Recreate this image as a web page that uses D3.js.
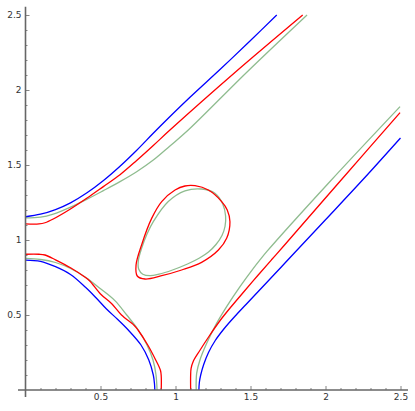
<!DOCTYPE html>
<html>
<head>
<meta charset="utf-8">
<script src="https://cdn.jsdelivr.net/npm/d3@7"></script>
<style>
  html, body { margin: 0; padding: 0; background: #fff; }
  svg { display: block; }
</style>
</head>
<body>
<svg width="415" height="411"></svg>
<script>
// Ticks
const majorTicks = [0.5, 1, 1.5, 2, 2.5];
const minorTicks = [0.1, 0.2, 0.3, 0.4, 0.6, 0.7, 0.8, 0.9, 1.1, 1.2, 1.3, 1.4, 1.6, 1.7, 1.8, 1.9, 2.1, 2.2, 2.3, 2.4];

// Blue curve, branches
const blueUpperLeft = [[0,1.155],[0.1,1.172],[0.2,1.203],[0.3,1.248],[0.41,1.315],[0.52,1.397],[0.63,1.492],[0.74,1.597],[0.85,1.71],[0.95,1.81],[1.1,1.955],[1.3,2.14],[1.5,2.33],[1.675,2.5]];
const blueLowerLeft = [[0,0.866],[0.1,0.858],[0.2,0.822],[0.3,0.77],[0.4,0.685],[0.47,0.615],[0.54,0.54],[0.615,0.47],[0.685,0.4],[0.77,0.3],[0.822,0.2],[0.852,0.1],[0.86,0.04],[0.862,0]];
const blueLowerRight = [[1.156,0],[1.159,0.05],[1.168,0.1],[1.188,0.17],[1.22,0.25],[1.265,0.33],[1.325,0.41],[1.395,0.49],[1.47,0.57],[1.55,0.655],[1.63,0.74],[1.71,0.825],[1.8,0.922],[2.0,1.135],[2.25,1.403],[2.5,1.68]];

// Red curve
const redUpperLeft = [[0,1.107],[0.09,1.107],[0.13,1.115],[0.185,1.14],[0.297,1.205],[0.408,1.278],[0.519,1.356],[0.63,1.435],[0.741,1.53],[0.852,1.63],[0.963,1.733],[1.4,2.12],[1.848,2.5]];
const redLowerLeft = [[0,0.905],[0.09,0.905],[0.13,0.9],[0.2,0.868],[0.3,0.815],[0.4,0.75],[0.43,0.725],[0.5,0.64],[0.575,0.575],[0.64,0.5],[0.725,0.43],[0.75,0.4],[0.815,0.3],[0.868,0.2],[0.9,0.13],[0.905,0.09],[0.905,0]];
const redLowerRight = [[1.101,0],[1.101,0.1],[1.104,0.144],[1.118,0.19],[1.16,0.26],[1.225,0.36],[1.295,0.46],[1.375,0.56],[1.46,0.66],[1.55,0.765],[1.64,0.868],[1.73,0.97],[2.1,1.395],[2.497,1.849]];
const redOval = [[1.13,1.362],[1.219,1.333],[1.308,1.256],[1.345,1.2],[1.363,1.122],[1.341,1.011],[1.286,0.933],[1.174,0.851],[1.041,0.8],[0.908,0.762],[0.797,0.74],[0.745,0.76],[0.737,0.833],[0.774,0.967],[0.841,1.144],[0.908,1.256],[0.997,1.333],[1.063,1.36]];

// Green curve
const greenUpperLeft = [[0,1.147],[0.1,1.152],[0.185,1.173],[0.297,1.218],[0.408,1.271],[0.519,1.329],[0.63,1.389],[0.741,1.455],[0.852,1.533],[0.963,1.627],[1.085,1.733],[1.477,2.12],[1.877,2.5]];
const greenLowerLeft = [[0,0.877],[0.1,0.87],[0.2,0.85],[0.3,0.81],[0.4,0.752],[0.5,0.675],[0.596,0.596],[0.675,0.5],[0.752,0.4],[0.81,0.3],[0.85,0.2],[0.87,0.1],[0.877,0]];
const greenLowerRight = [[1.138,0],[1.141,0.111],[1.163,0.2],[1.208,0.311],[1.274,0.444],[1.341,0.556],[1.43,0.689],[1.519,0.811],[1.563,0.867],[1.608,0.922],[2.03,1.39],[2.497,1.889]];
const greenOval = [[1.174,1.34],[1.263,1.311],[1.315,1.24],[1.334,1.16],[1.33,1.09],[1.31,1.03],[1.27,0.97],[1.22,0.92],[1.16,0.88],[1.08,0.84],[0.98,0.8],[0.89,0.772],[0.83,0.762],[0.782,0.772],[0.755,0.805],[0.752,0.86],[0.774,0.944],[0.81,1.04],[0.852,1.122],[0.952,1.256],[1.063,1.327]];

const svg = d3.select("svg");

// Scales: 150 px per unit
const x = d3.scaleLinear().domain([0, 2.5]).range([25.5, 400.5]);
const y = d3.scaleLinear().domain([0, 2.5]).range([390, 15]);

const axisColor = "#666";
const labelColor = "#333";

// Curves
const line = d3.line().x(d => x(d[0])).y(d => y(d[1])).curve(d3.curveCatmullRom.alpha(0.5));
const closed = d3.line().x(d => x(d[0])).y(d => y(d[1])).curve(d3.curveCatmullRomClosed.alpha(0.5));

const curves = [
  {color: "#8fbc8f", open: [greenUpperLeft, greenLowerLeft, greenLowerRight], oval: greenOval},
  {color: "#0000ff", open: [blueUpperLeft, blueLowerLeft, blueLowerRight], oval: null},
  {color: "#ff0000", open: [redUpperLeft, redLowerLeft, redLowerRight], oval: redOval}
];

const plot = svg.append("g");
curves.forEach(c => {
  plot.selectAll(null)
    .data(c.open)
    .join("path")
    .attr("d", line)
    .attr("fill", "none")
    .attr("stroke", c.color)
    .attr("stroke-width", 1.3);
  if (c.oval) {
    plot.append("path")
      .attr("d", closed(c.oval))
      .attr("fill", "none")
      .attr("stroke", c.color)
      .attr("stroke-width", 1.3);
  }
});

// Axes
svg.append("g")
  .attr("transform", `translate(0,${y(0)})`)
  .call(d3.axisBottom(x).tickValues(majorTicks).tickSizeInner(-4).tickSizeOuter(0).tickPadding(4).tickFormat(d3.format("")))
  .call(g => g.select(".domain").remove());
svg.append("g")
  .attr("transform", `translate(0,${y(0)})`)
  .call(d3.axisBottom(x).tickValues(minorTicks).tickSizeInner(-2).tickSizeOuter(0).tickFormat(""))
  .call(g => g.select(".domain").remove());

svg.append("g")
  .attr("transform", `translate(${x(0)},0)`)
  .call(d3.axisLeft(y).tickValues(majorTicks).tickSizeInner(-4).tickSizeOuter(0).tickPadding(4).tickFormat(d3.format("")))
  .call(g => g.select(".domain").remove());
svg.append("g")
  .attr("transform", `translate(${x(0)},0)`)
  .call(d3.axisLeft(y).tickValues(minorTicks).tickSizeInner(-2).tickSizeOuter(0).tickFormat(""))
  .call(g => g.select(".domain").remove());

svg.append("line")
  .attr("x1", x(-0.05)).attr("x2", x(2.55))
  .attr("y1", y(0)).attr("y2", y(0))
  .attr("stroke", axisColor).attr("stroke-width", 1.6);
svg.append("line")
  .attr("x1", x(0)).attr("x2", x(0))
  .attr("y1", y(2.555)).attr("y2", y(-0.047))
  .attr("stroke", axisColor).attr("stroke-width", 1.6);

svg.selectAll(".tick line").attr("stroke", axisColor).attr("stroke-width", 0.8);
svg.selectAll(".tick text")
  .attr("fill", labelColor)
  .attr("font-family", "DejaVu Sans, sans-serif")
  .attr("font-size", 9);
</script>
</body>
</html>
